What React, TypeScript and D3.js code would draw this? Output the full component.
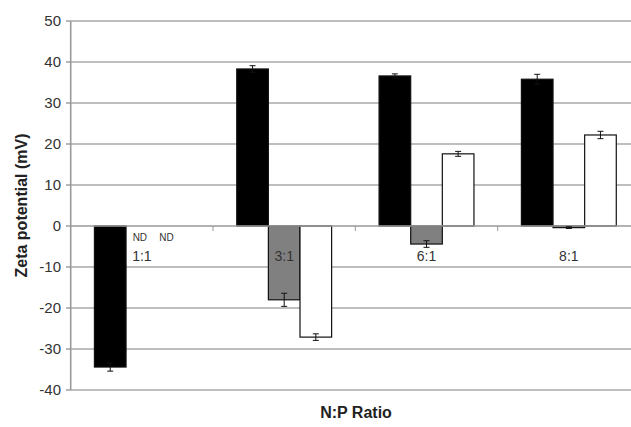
import { scaleBand, scaleLinear } from 'd3';

const width = 631
const height = 427

const categories = ['1:1', '3:1', '6:1', '8:1']
const seriesNames = ['s1', 's2', 's3']
const blackValues = [-34.4, 38.3, 36.6, 35.8]
const blackErrors = [1.0, 0.8, 0.5, 1.2]
const grayValues = [null, -18.0, -4.4, -0.4]
const grayErrors = [null, 1.6, 0.8, 0.2]
const whiteValues = [null, -27.1, 17.6, 22.2]
const whiteErrors = [null, 0.8, 0.6, 0.9]
const yTicks = [50, 40, 30, 20, 10, 0, -10, -20, -30, -40]
const ndLabels = ['ND', 'ND']

const fills = ['#000000', '#808080', '#ffffff']

const x = scaleBand().domain(categories).range([70.7, 640]).paddingInner(0).paddingOuter(0)
const xInner = scaleBand().domain(seriesNames).range([0, x.bandwidth()]).paddingInner(0).paddingOuter(0.75)
const y = scaleLinear().domain([-40, 50]).range([390, 21])

const font = '"Liberation Sans", Arial, sans-serif'

function App() {
  const allValues = [blackValues, grayValues, whiteValues]
  const allErrors = [blackErrors, grayErrors, whiteErrors]

  const bars = []
  categories.forEach((c, i) => {
    seriesNames.forEach((s, j) => {
      const v = allValues[j][i]
      if (v === null) return
      const bx = x(c) + xInner(s)
      const top = y(Math.max(0, v))
      const bottom = y(Math.min(0, v))
      bars.push(
        <rect key={`b-${i}-${j}`} x={bx} y={top} width={xInner.bandwidth()} height={bottom - top}
          fill={fills[j]} stroke="#111" strokeWidth={1.2} />
      )
    })
  })

  const errs = []
  categories.forEach((c, i) => {
    seriesNames.forEach((s, j) => {
      const v = allValues[j][i]
      const e = allErrors[j][i]
      if (v === null || e === null) return
      const cx = x(c) + xInner(s) + xInner.bandwidth() / 2
      errs.push(
        <g key={`e-${i}-${j}`} stroke="#111" strokeWidth={1}>
          <line x1={cx} x2={cx} y1={y(v + e)} y2={y(v - e)} />
          <line x1={cx - 3} x2={cx + 3} y1={y(v + e)} y2={y(v + e)} />
          <line x1={cx - 3} x2={cx + 3} y1={y(v - e)} y2={y(v - e)} />
        </g>
      )
    })
  })

  const zeroY = y(0)
  // centres of the grey and white bars in the 1:1 group, where ND is written
  const ndX = [1, 2].map(j => x(categories[0]) + xInner(seriesNames[j]) + xInner.bandwidth() / 2)

  return (
    <svg width={width} height={height} style={{ position: 'absolute', left: 0, top: 0, background: '#fff' }}>
      {/* gridlines */}
      {yTicks.filter(t => t !== 0).map(t => (
        <line key={t} x1={70.7} x2={width} y1={y(t)} y2={y(t)} stroke="#a8a8a8" strokeWidth={1.6} />
      ))}
      {/* y axis */}
      <line x1={70.7} x2={70.7} y1={y(50)} y2={y(-40)} stroke="#999" strokeWidth={1.6} />
      {yTicks.map(t => (
        <g key={`t${t}`}>
          <line x1={66} x2={70.7} y1={y(t)} y2={y(t)} stroke="#999" strokeWidth={1.4} />
          <text x={61} y={y(t)} dy="0.36em" textAnchor="end" fontFamily={font} fontSize={15} fill="#333">{t}</text>
        </g>
      ))}
      {bars}
      {/* category axis at zero */}
      <line x1={70.7} x2={width} y1={zeroY} y2={zeroY} stroke="#999" strokeWidth={1.4} />
      {categories.slice(1).map(c => (
        <line key={`ct${c}`} x1={x(c)} x2={x(c)} y1={zeroY} y2={zeroY + 5} stroke="#999" strokeWidth={1} />
      ))}
      {errs}
      {categories.map(c => (
        <text key={`cl${c}`} x={x(c) + x.bandwidth() / 2} y={zeroY + 35} textAnchor="middle"
          fontFamily={font} fontSize={14} fill="#333">{c}</text>
      ))}
      {ndLabels.map((n, k) => (
        <text key={`nd${k}`} x={ndX[k] - (k === 0 ? 2 : 7)} y={zeroY + 14.5}
          textAnchor="middle" fontFamily={font} fontSize={10} fill="#333">{n}</text>
      ))}
      <text transform={`translate(27, ${y(5)}) rotate(-90)`} textAnchor="middle" fontFamily={font}
        fontSize={16} fontWeight="bold" fill="#222">Zeta potential (mV)</text>
      <text x={356} y={418} textAnchor="middle" fontFamily={font} fontSize={16} fontWeight="bold" fill="#222">N:P Ratio</text>
    </svg>
  )
}

export default App
